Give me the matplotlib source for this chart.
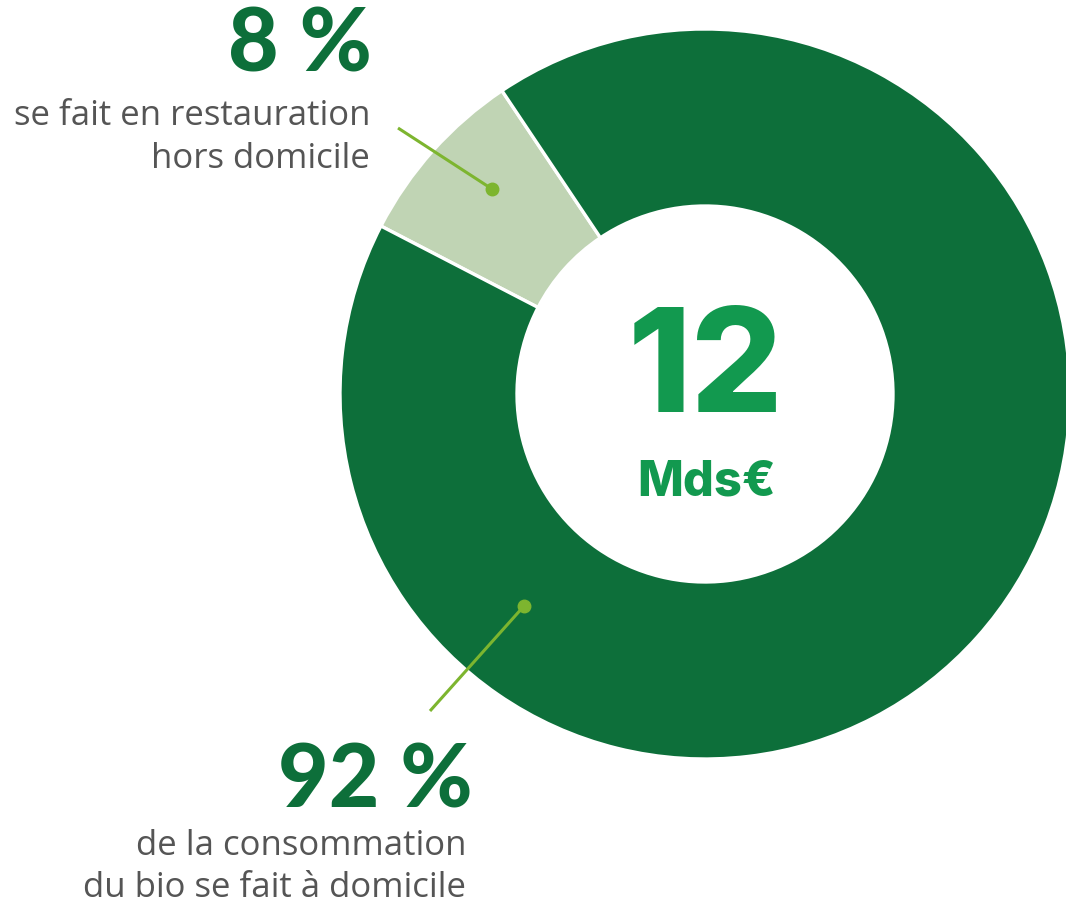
import matplotlib
matplotlib.use("Agg")
import matplotlib.pyplot as plt

# Data
categories = ["Restauration hors domicile", "Consommation à domicile"]
shares = [8, 92]
total_label = "12"
total_unit = "Mds€"
pct_labels = ["8 %", "92 %"]
desc_labels = ["se fait en restauration\nhors domicile",
               "de la consommation\ndu bio se fait à domicile"]

W, H = 1066, 905
fig = plt.figure(figsize=(W / 100, H / 100), dpi=100)
ax = fig.add_axes([0, 0, 1, 1])

cx, cy, R = 705, H - 394, 365
dark = "#0D6F3A"
light = "#C0D4B4"
lime = "#7DB52F"
grey = "#555555"
mid = "#12994F"

ax.pie(shares, colors=[light, dark], startangle=123.8, counterclock=True,
       center=(cx, cy), radius=R,
       wedgeprops=dict(width=R - 188, edgecolor="white", linewidth=2.4))
ax.set_xlim(0, W)
ax.set_ylim(0, H)
ax.set_aspect("equal")
ax.axis("off")

# leader lines
ax.plot([398, 492], [H - 128, H - 189], color=lime, lw=2.2, solid_capstyle="butt")
ax.plot([492], [H - 189], "o", color=lime, ms=9)
ax.plot([430, 524], [H - 711, H - 606], color=lime, lw=2.2, solid_capstyle="butt")
ax.plot([524], [H - 606], "o", color=lime, ms=9)

big = dict(family=["Lato", "DejaVu Sans"], fontweight="black", color=dark)
ax.text(372, H - 72, pct_labels[0], ha="right", va="baseline", fontsize=63, **big)
ax.text(473, H - 807, pct_labels[1], ha="right", va="baseline", fontsize=63, **big)

small = dict(family=["Open Sans", "DejaVu Sans"], color=grey, fontsize=25.0)
l1, l2 = desc_labels[0].split("\n")
l3, l4 = desc_labels[1].split("\n")
ax.text(370, H - 125, l1, ha="right", va="baseline", **small)
ax.text(370, H - 168, l2, ha="right", va="baseline", **small)
ax.text(466, H - 855, l3, ha="right", va="baseline", **small)
ax.text(466, H - 897, l4, ha="right", va="baseline", **small)

center = dict(family=["Inter", "DejaVu Sans"], fontweight="heavy", color=mid)
ax.text(706, H - 412, total_label, ha="center", va="baseline", fontsize=104, **center)
ax.text(706, H - 496, total_unit, ha="center", va="baseline", fontsize=35, **center)

fig.savefig("out.png", dpi=100)
